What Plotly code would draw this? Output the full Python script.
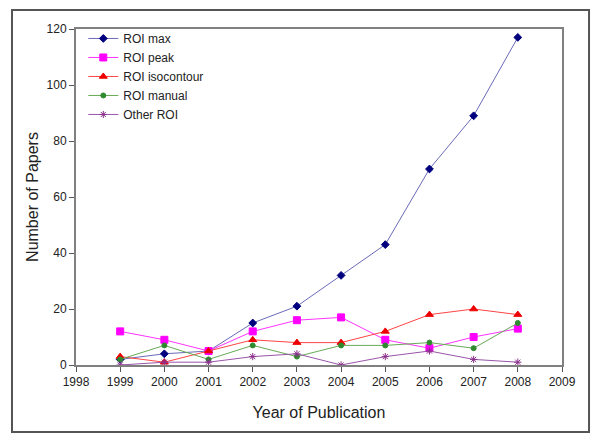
import plotly.graph_objects as go

years = [1999, 2000, 2001, 2002, 2003, 2004, 2005, 2006, 2007, 2008]
roi_max = [2, 4, 5, 15, 21, 32, 43, 70, 89, 117]
roi_peak = [12, 9, 5, 12, 16, 17, 9, 6, 10, 13]
roi_iso = [3, 1, 5, 9, 8, 8, 12, 18, 20, 18]
roi_manual = [2, 7, 2, 7, 3, 7, 7, 8, 6, 15]
other_roi = [0, 1, 1, 3, 4, 0, 3, 5, 2, 1]

series = [
    ("ROI max", roi_max, "#6a6ab8", "#00007f", "diamond", 6),
    ("ROI peak", roi_peak, "#ff33ff", "#ff00ff", "square", 7),
    ("ROI isocontour", roi_iso, "#ff4444", "#ee0000", "triangle-up", 7),
    ("ROI manual", roi_manual, "#66aa55", "#2f8a2f", "circle", 5),
    ("Other ROI", other_roi, "#9955aa", "#8a2f8a", "asterisk-open", 6),
]

fig = go.Figure()
for name, vals, lc, mc, sym, sz in series:
    fig.add_trace(go.Scatter(
        x=years, y=vals, name=name, mode="lines+markers",
        line=dict(color=lc, width=1),
        marker=dict(symbol=sym, color=mc, size=sz, line=dict(color=mc, width=1)),
    ))

fig.update_layout(
    width=600, height=443,
    margin=dict(l=68, r=46, t=21, b=86),
    paper_bgcolor="white", plot_bgcolor="white",
    font=dict(family="Liberation Sans, Arial, sans-serif", color="#222", size=12),
    showlegend=True,
    legend=dict(x=0.015, y=1.015, xanchor="left", yanchor="top",
                bgcolor="rgba(0,0,0,0)", font=dict(size=12),
                tracegroupgap=0, itemwidth=30),
    xaxis=dict(range=[1998, 2009], tickmode="linear", dtick=1, tick0=1998,
               showgrid=False, zeroline=False, showline=True, linecolor="#808080",
               linewidth=2, mirror=True, ticks="outside", ticklen=5, tickcolor="#555",
               title=dict(text="Year of Publication", font=dict(size=16), standoff=18),
               tickfont=dict(size=12)),
    yaxis=dict(range=[0, 120], tickmode="linear", dtick=20, tick0=0,
               showgrid=False, zeroline=False, showline=True, linecolor="#808080",
               linewidth=2, mirror=True, ticks="outside", ticklen=5, tickcolor="#555",
               title=dict(text="Number of Papers", font=dict(size=16), standoff=4),
               tickfont=dict(size=12)),
    shapes=[dict(type="rect", xref="paper", yref="paper",
                 x0=-0.1317, x1=1.0556, y0=-0.1994, y1=1.0565,
                 line=dict(color="#555", width=2), fillcolor="rgba(0,0,0,0)")],
)

fig.write_html("out.html")
